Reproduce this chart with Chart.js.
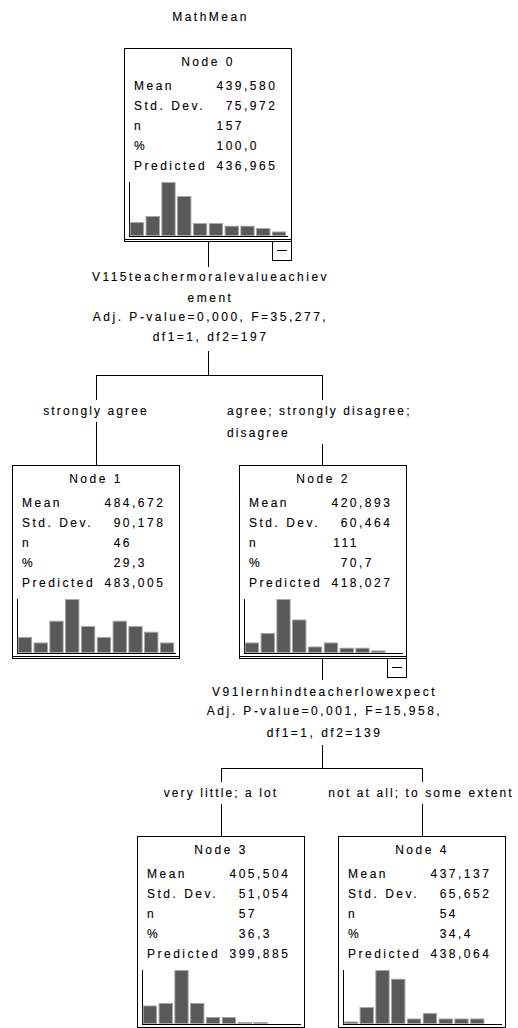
<!DOCTYPE html>
<html>
<head>
<meta charset="utf-8">
<script src="https://cdn.jsdelivr.net/npm/chart.js@4.4.1/dist/chart.umd.min.js"></script>
<style>
  html, body { margin: 0; padding: 0; background: #fff; }
  #tree { position: relative; width: 518px; height: 1028px; overflow: hidden;
          font-family: "Liberation Sans", Arial, sans-serif; font-size: 12px; color: #000; }
  .t { position: absolute; white-space: nowrap; letter-spacing: 2.5px; line-height: 14px;
       -webkit-text-stroke: 0.12px #000; }
  .c { text-align: center; padding-left: 2.5px; }
  .bg { background: #fff; line-height: 22px; letter-spacing: 2.1px; }
  .h { position: absolute; height: 1px; background: #000; }
  .v { position: absolute; width: 1px; background: #000; }
  .box { position: absolute; width: 168px; height: 194px; box-sizing: border-box; border: 1px solid #000; background: #fff; }
  .btn { position: absolute; width: 20px; height: 20px; box-sizing: border-box; border: 1px solid #000; background: #fff; }
  .btn:after { content: ''; position: absolute; left: 4px; right: 4px; top: 8px; height: 1px; background: #000; }
  .int { display: inline-block; width: 44px; text-align: right; }
  canvas { position: absolute; }
</style>
</head>
<body>
<div id="tree"></div>
<script>
  'use strict';

  const TITLE = 'MathMean';
  const NODE_NAMES = ['Node 0', 'Node 1', 'Node 2', 'Node 3', 'Node 4'];
  const ROW_LABELS = ['Mean', 'Std. Dev.', 'n', '%', 'Predicted'];
  const MEAN      = [439.580, 484.672, 420.893, 405.504, 437.137];
  const STD_DEV   = [75.972, 90.178, 60.464, 51.054, 65.652];
  const N         = [157, 46, 111, 57, 54];
  const PCT       = [100.0, 29.3, 70.7, 36.3, 34.4];
  const PREDICTED = [436.965, 483.005, 418.027, 399.885, 438.064];

  // histogram bins (10 equal bins of MathMean), counts
  const BINS   = ['1', '2', '3', '4', '5', '6', '7', '8', '9', '10'];
  const HIST_0 = [12, 17, 46, 34, 11, 11, 9, 9, 7, 4];
  const HIST_1 = [3, 2, 6, 10, 5, 3, 6, 5, 4, 2];
  const HIST_2 = [8, 15, 40, 25, 5, 8, 4, 4, 2, 0];
  const HIST_3 = [8, 9, 23, 9, 3, 3, 1, 1, 0, 0];
  const HIST_4 = [1, 6, 19, 16, 2, 4, 2, 2, 2, 0];

  const SPLIT_0 = ['V115teachermoralevalueachiev', 'ement', 'Adj. P-value=0,000, F=35,277,', 'df1=1, df2=197'];
  const SPLIT_2 = ['V91lernhindteacherlowexpect', 'Adj. P-value=0,001, F=15,958,', 'df1=1, df2=139'];
  const BRANCH_1 = ['strongly agree'];
  const BRANCH_2 = ['agree; strongly disagree;', 'disagree'];
  const BRANCH_3 = ['very little; a lot'];
  const BRANCH_4 = ['not at all; to some extent'];

  const HISTS = [HIST_0, HIST_1, HIST_2, HIST_3, HIST_4];
  // box top-left corners
  const POS = [[124, 48], [12, 465], [239, 465], [137, 836], [338, 836]];
  const ROW_Y = [38, 58, 78, 98, 118];

  const tree = document.getElementById('tree');
  const fmt = (v, d) => v.toFixed(d).replace('.', ',');

  function el(cls, style, html) {
    const d = document.createElement('div');
    d.className = cls;
    Object.assign(d.style, style);
    if (html != null) d.innerHTML = html;
    tree.appendChild(d);
    return d;
  }
  const vline = (x, y1, y2) => el('v', { left: x + 'px', top: y1 + 'px', height: (y2 - y1) + 'px' });
  const hline = (x1, x2, y) => el('h', { left: x1 + 'px', top: y + 'px', width: (x2 - x1 + 1) + 'px' });
  const centered = (text, cx, cy) => el('t c', { left: (cx - 150) + 'px', top: (cy - 7) + 'px', width: '300px' }, text);

  function branchLabel(lines, cx, cy, width) {
    el('t bg', { left: (cx - width / 2) + 'px', top: (cy - 11) + 'px', width: width + 'px',
                 textAlign: lines.length > 1 ? 'left' : 'center' }, lines.join('<br>'));
  }

  function drawHist(canvas, counts) {
    new Chart(canvas, {
      type: 'bar',
      data: {
        labels: BINS,
        datasets: [{ data: counts, backgroundColor: '#595959', borderColor: '#a8a8a8', borderWidth: 1,
                     borderSkipped: false, barPercentage: 0.93, categoryPercentage: 1 }]
      },
      options: {
        responsive: false, animation: false, events: [],
        layout: { padding: { left: 2, right: 3, top: 3, bottom: 3 } },
        plugins: { legend: { display: false }, tooltip: { enabled: false } },
        scales: {
          x: { grid: { display: false, drawTicks: false }, ticks: { display: false },
               border: { display: true, color: '#000', width: 1 } },
          y: { min: 0, max: Math.max(...counts), grid: { display: false, drawTicks: false }, ticks: { display: false },
               border: { display: true, color: '#000', width: 1 } }
        }
      }
    });
  }

  function node(i) {
    const [L, T] = POS[i];
    el('box', { left: L + 'px', top: T + 'px' });
    hline(L, L + 167, T + 191);
    el('t c', { left: L + 'px', top: (T + 14 - 7) + 'px', width: '168px', paddingLeft: '0' }, NODE_NAMES[i]);
    const vals = [fmt(MEAN[i], 3), fmt(STD_DEV[i], 3), String(N[i]), fmt(PCT[i], 1), fmt(PREDICTED[i], 3)];
    ROW_LABELS.forEach((lab, r) => {
      el('t', { left: (L + 10) + 'px', top: (T + ROW_Y[r] - 7) + 'px' }, lab);
      const parts = vals[r].split(',');
      const rest = parts.length > 1 ? ',' + parts[1] : '';
      el('t', { left: (L + 76) + 'px', top: (T + ROW_Y[r] - 7) + 'px' },
         '<span class="int">' + parts[0] + '</span>' + rest);
    });
    const cv = document.createElement('canvas');
    cv.width = 163; cv.height = 60;
    cv.style.left = (L + 3) + 'px';
    cv.style.top = (T + 131) + 'px';
    tree.appendChild(cv);
    drawHist(cv, HISTS[i]);
  }

  // title
  centered(TITLE, 208, 17);

  // connectors, first split
  vline(208, 242, 267);
  centered(SPLIT_0[0], 208, 277);
  centered(SPLIT_0[1], 208, 298);
  centered(SPLIT_0[2], 208, 317);
  centered(SPLIT_0[3], 208, 337);
  vline(208, 351, 375);
  hline(96, 322, 375);
  vline(96, 375, 465);
  vline(322, 375, 465);
  branchLabel(BRANCH_1, 96, 411, 110);
  branchLabel(BRANCH_2, 320, 411, 186);

  // second split
  vline(322, 658, 680);
  centered(SPLIT_2[0], 322, 692);
  centered(SPLIT_2[1], 322, 711);
  centered(SPLIT_2[2], 322, 733);
  vline(322, 745, 768);
  hline(221, 422, 768);
  vline(221, 768, 836);
  vline(422, 768, 836);
  branchLabel(BRANCH_3, 221, 793, 116);
  branchLabel(BRANCH_4, 421, 793, 186);

  for (let i = 0; i < 5; i++) node(i);

  // collapse buttons on the split nodes
  [0, 2].forEach(i => {
    const [L, T] = POS[i];
    el('btn', { left: (L + 148) + 'px', top: (T + 193) + 'px' });
  });
</script>
</body>
</html>
